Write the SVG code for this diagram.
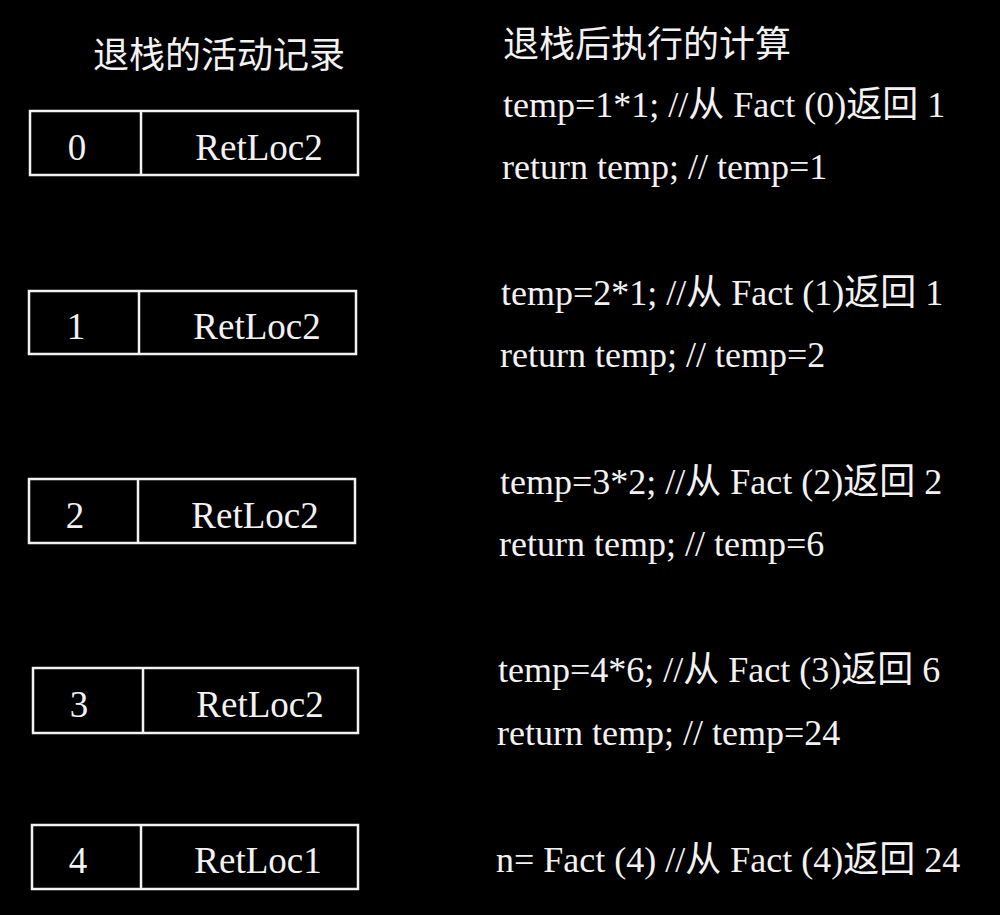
<svg xmlns="http://www.w3.org/2000/svg" width="1000" height="915" viewBox="0 0 1000 915">
<style>
.bg{fill:#000}
.box{fill:none;stroke:#f2f2f2;stroke-width:2.5}
.t{fill:#f2f2f2;font-family:"Liberation Serif","Noto Sans CJK SC",serif;font-size:36px}
.b{fill:#f2f2f2;font-family:"Liberation Serif",serif;font-size:37px;text-anchor:middle}
.h{fill:#f2f2f2;font-family:"Noto Sans CJK SC",sans-serif;font-size:36px}
</style>
<rect class="bg" x="0" y="0" width="1000" height="915"/>
<text class="h" x="93" y="68">退栈的活动记录</text>
<text class="h" x="503" y="57">退栈后执行的计算</text>
<g id="rec0">
<rect class="box" x="30" y="111" width="328" height="64"/>
<line class="box" x1="141" y1="111" x2="141" y2="175"/>
<text class="b" x="77" y="160">0</text>
<text class="b" x="259" y="160">RetLoc2</text>
</g>
<g id="rec1">
<rect class="box" x="29" y="291" width="327" height="63"/>
<line class="box" x1="139" y1="291" x2="139" y2="354"/>
<text class="b" x="76" y="339">1</text>
<text class="b" x="257" y="339">RetLoc2</text>
</g>
<g id="rec2">
<rect class="box" x="29" y="479" width="326" height="64"/>
<line class="box" x1="138" y1="479" x2="138" y2="543"/>
<text class="b" x="75" y="528">2</text>
<text class="b" x="255" y="528">RetLoc2</text>
</g>
<g id="rec3">
<rect class="box" x="33" y="668" width="325" height="65"/>
<line class="box" x1="143" y1="668" x2="143" y2="733"/>
<text class="b" x="79" y="717">3</text>
<text class="b" x="260" y="717">RetLoc2</text>
</g>
<g id="rec4">
<rect class="box" x="32" y="825" width="326" height="64"/>
<line class="box" x1="141" y1="825" x2="141" y2="889"/>
<text class="b" x="78" y="873">4</text>
<text class="b" x="258" y="873">RetLoc1</text>
</g>
<g id="calc0">
<text class="t" x="503" y="117">temp=1*1; //从 Fact (0)返回 1</text>
<text class="t" x="502" y="179">return temp; // temp=1</text>
</g>
<g id="calc1">
<text class="t" x="501" y="305">temp=2*1; //从 Fact (1)返回 1</text>
<text class="t" x="500" y="367">return temp; // temp=2</text>
</g>
<g id="calc2">
<text class="t" x="500" y="494">temp=3*2; //从 Fact (2)返回 2</text>
<text class="t" x="499" y="556">return temp; // temp=6</text>
</g>
<g id="calc3">
<text class="t" x="498" y="682">temp=4*6; //从 Fact (3)返回 6</text>
<text class="t" x="497" y="745">return temp; // temp=24</text>
</g>
<g id="calc4">
<text class="t" x="496" y="872">n= Fact (4) //从 Fact (4)返回 24</text>
</g>
<g id="connectors"></g>
</svg>
